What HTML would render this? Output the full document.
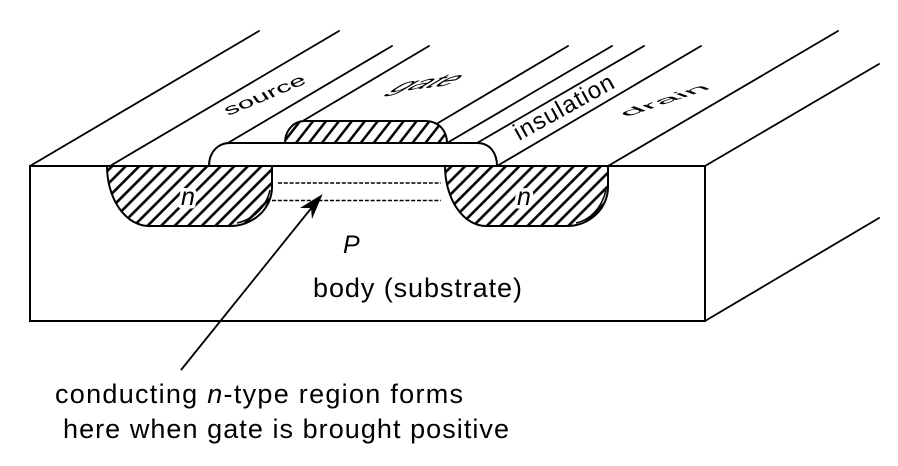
<!DOCTYPE html>
<html>
<head>
<meta charset="utf-8">
<style>
  html,body{margin:0;padding:0;background:#fff;}
  svg{display:block;}
  text{font-family:"Liberation Sans", Arial, sans-serif; fill:#000;}
</style>
</head>
<body>
<svg width="898" height="466" viewBox="0 0 898 466" xmlns="http://www.w3.org/2000/svg">
  <defs>
    <pattern id="hn" patternUnits="userSpaceOnUse" width="9.6" height="20" patternTransform="rotate(45)">
      <rect x="3.5" y="0" width="2.6" height="20" fill="#000"/>
    </pattern>
    <pattern id="hg" patternUnits="userSpaceOnUse" width="10.2" height="20" patternTransform="rotate(38)">
      <rect x="3.8" y="0" width="2.5" height="20" fill="#000"/>
    </pattern>
  </defs>

  <rect x="0" y="0" width="898" height="466" fill="#fff"/>

  <!-- top face stripe lines -->
  <g stroke="#000" stroke-width="1.8" stroke-linecap="round">
    <line x1="30" y1="166" x2="259" y2="31"/>
    <line x1="110" y1="166" x2="339" y2="31"/>
    <line x1="227" y1="143.5" x2="392" y2="46"/>
    <line x1="301" y1="122" x2="429" y2="46"/>
    <line x1="438" y1="123" x2="568" y2="46"/>
    <line x1="447" y1="143" x2="612" y2="46"/>
    <line x1="477" y1="143" x2="644" y2="46"/>
    <line x1="497" y1="166" x2="701" y2="46"/>
    <line x1="608" y1="166" x2="838" y2="31"/>
    <line x1="705" y1="166" x2="879" y2="64"/>
    <line x1="705" y1="321" x2="879" y2="218"/>
  </g>

  <!-- insulation layer -->
  <path d="M209,166 C209,152 218,143 230,143 L477,143 C490,143 497,153 497,166" fill="#fff" stroke="#000" stroke-width="2"/>

  <!-- gate (hatched) -->
  <path d="M285,143 C285,131 293,121 305,121 L425,121 C439,121 447,131 447,143 Z" fill="#fff" stroke="none"/>
  <path d="M285,143 C285,131 293,121 305,121 L425,121 C439,121 447,131 447,143 Z" fill="url(#hg)" stroke="#000" stroke-width="2"/>

  <!-- front face -->
  <rect x="30" y="166" width="675" height="155" fill="none" stroke="#000" stroke-width="2"/>

  <!-- source n region -->
  <path d="M107,166 A42,60 0 0 0 149,226 L230,226 A42,39 0 0 0 272,187 L272,166 Z" fill="#fff"/>
  <path d="M107,166 A42,60 0 0 0 149,226 L230,226 A42,39 0 0 0 272,187 L272,166 Z" fill="url(#hn)" stroke="#000" stroke-width="2"/>
  <path d="M270,190 C266,208 252,220 237,223" fill="none" stroke="#000" stroke-width="1.6"/>

  <!-- drain n region -->
  <path d="M445,166 A41,60 0 0 0 486,226 L567,226 A41,39 0 0 0 608,187 L608,166 Z" fill="#fff"/>
  <path d="M445,166 A41,60 0 0 0 486,226 L567,226 A41,39 0 0 0 608,187 L608,166 Z" fill="url(#hn)" stroke="#000" stroke-width="2"/>
  <path d="M606,190 C602,208 590,220 576,223" fill="none" stroke="#000" stroke-width="1.6"/>

  <!-- top edge re-stroke -->
  <line x1="30" y1="166" x2="705" y2="166" stroke="#000" stroke-width="2"/>

  <!-- n labels with halo -->
  <text x="181" y="205" font-size="25" font-style="italic" stroke="#fff" stroke-width="7" paint-order="stroke" stroke-linejoin="round">n</text>
  <text x="517" y="205" font-size="25" font-style="italic" stroke="#fff" stroke-width="7" paint-order="stroke" stroke-linejoin="round">n</text>

  <!-- channel dashed lines -->
  <g stroke="#000" stroke-width="1.4" stroke-dasharray="4 1.8">
    <line x1="278" y1="183" x2="441" y2="183"/>
    <line x1="272" y1="200.5" x2="441" y2="200.5"/>
  </g>

  <!-- arrow -->
  <line x1="181" y1="370" x2="313" y2="206" stroke="#000" stroke-width="1.8"/>
  <polygon points="322.7,194 312,219 311,208 300,208" fill="#000"/>

  <!-- labels on the top face -->
  <text font-size="32" transform="matrix(0.83,-0.345,0.3,0.42,228,116)">source</text>
  <text font-size="34" transform="matrix(0.955,-0.12,-1.0,0.6,386,93)">gate</text>
  <text font-size="24" transform="translate(519,141) rotate(-29)" textLength="111" lengthAdjust="spacing">insulation</text>
  <text font-size="40" transform="matrix(0.955,-0.326,0.4,0.15,627,117)">drain</text>

  <!-- body labels -->
  <text x="343" y="253" font-size="25" font-style="italic">P</text>
  <text x="313" y="297" font-size="27" textLength="209" lengthAdjust="spacing">body (substrate)</text>

  <!-- caption -->
  <text x="55" y="403" font-size="27" textLength="408" lengthAdjust="spacing">conducting <tspan font-style="italic">n</tspan>-type region forms</text>
  <text x="63" y="438" font-size="27" textLength="446" lengthAdjust="spacing">here when gate is brought positive</text>
</svg>
</body>
</html>
